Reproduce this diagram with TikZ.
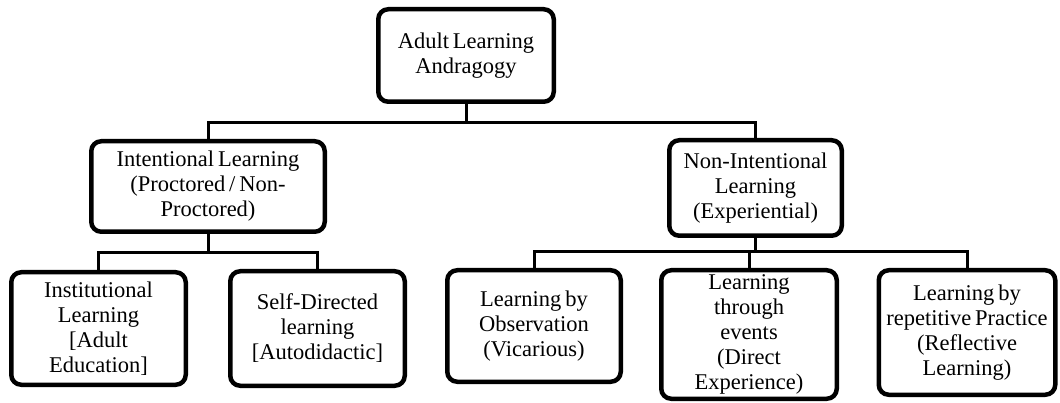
\documentclass[tikz,border=0pt]{standalone}
\usepackage{fontspec}
\setmainfont{Liberation Serif}[WordSpace=0.7]
\begin{document}
\begin{tikzpicture}[x=1pt,y=-1pt,
  box/.style={draw=black,line width=4.5pt,rounded corners=10pt,fill=white,align=center,inner sep=0pt,
    font=\fontsize{22.5}{25}\selectfont},
  link/.style={draw=black,line width=3pt}]
\useasboundingbox (0,0) rectangle (1060,403);
% levels of the connector bars
\coordinate (barA) at (0,123);
\coordinate (barB) at (0,253);
\coordinate (barC) at (0,252);
% nodes
\node[box,minimum width=175.5pt,minimum height=92.5pt] (top) at (466,55.5) {Adult Learning\\Andragogy};
\node[box,minimum width=233.5pt,minimum height=90.5pt] (intent) at (208,186.5) {Intentional Learning\\(Proctored / Non-\\Proctored)};
\node[box,minimum width=172.5pt,minimum height=95.5pt] (nonint) at (755.5,188) {Non-Intentional\\Learning\\(Experiential)};
\node[box,minimum width=174.5pt,minimum height=112.5pt] (inst) at (98.5,328.5) {Institutional\\Learning\\{[Adult}\\Education]};
\node[box,minimum width=174.5pt,minimum height=114.5pt] (self) at (317.5,328.5) {Self-Directed\\learning\\{[Autodidactic]}};
\node[box,minimum width=173.5pt,minimum height=111.5pt] (obs) at (534,326) {Learning by\\Observation\\(Vicarious)};
\node[box,minimum width=175.5pt,minimum height=128.5pt] (evt) at (749,334.5) {Learning\\through\\events\\(Direct\\Experience)};
\node[box,minimum width=176.5pt,minimum height=124.5pt] (prac) at (967,332.5) {Learning by\\repetitive Practice\\(Reflective\\Learning)};
% connectors
\draw[link] (top.south) -- (top.south |- barA);
\draw[link] (intent.north) -- (intent.north |- barA) -| (nonint.north);
\draw[link] (intent.south) -- (intent.south |- barB);
\draw[link] (inst.north) -- (inst.north |- barB) -| (self.north);
\draw[link] (nonint.south) -- (nonint.south |- barC);
\draw[link] (obs.north) -- (obs.north |- barC) -| (prac.north);
\draw[link] (evt.north) -- (evt.north |- barC);
\end{tikzpicture}
\end{document}
